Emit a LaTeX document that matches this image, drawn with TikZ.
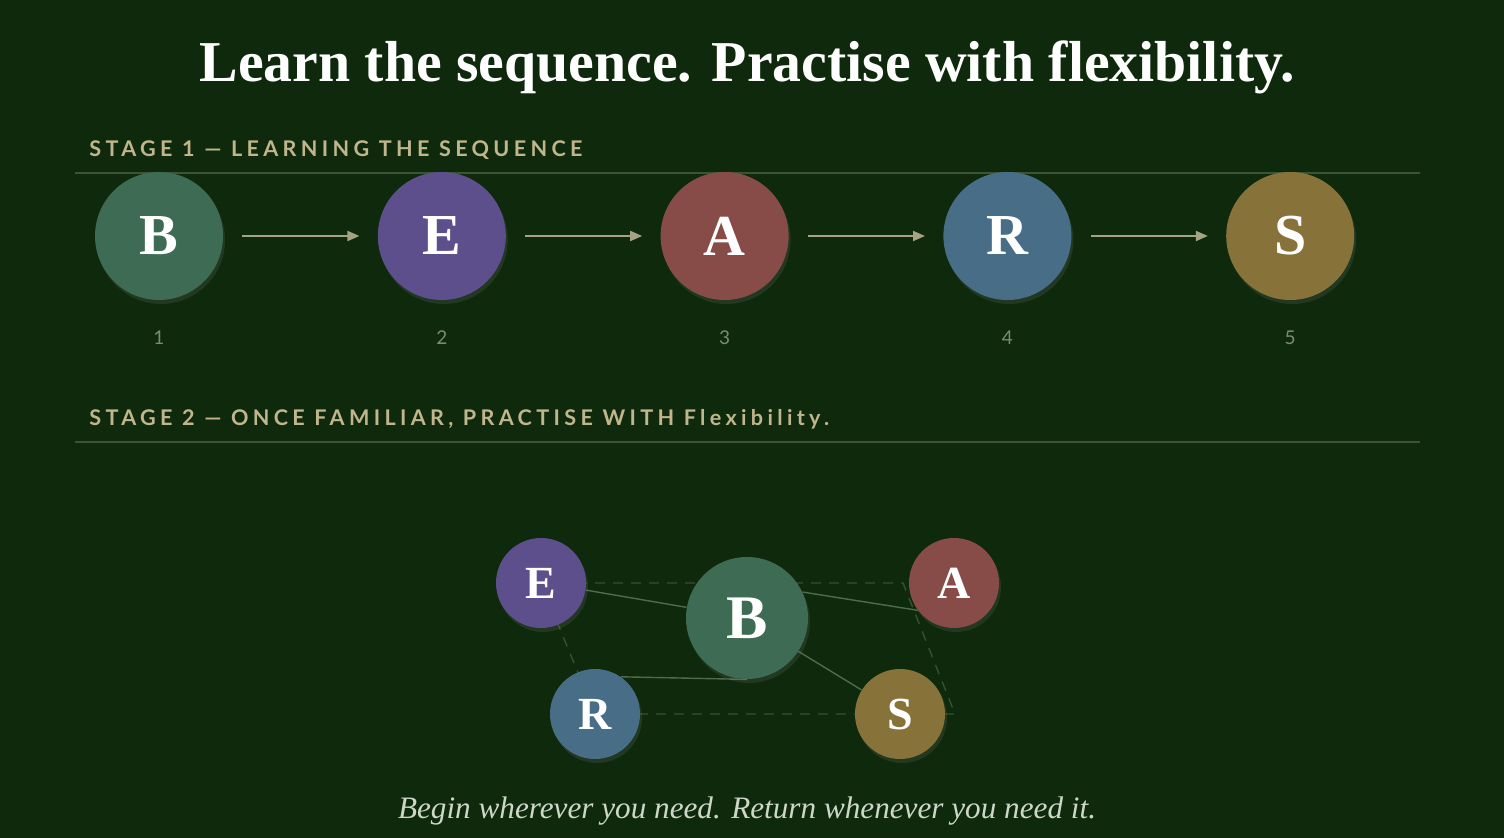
\documentclass[tikz,border=0pt]{standalone}
\usepackage{fontspec}
\setmainfont{Liberation Serif}
\newfontfamily\stagefont[LetterSpace=20]{Lato}
\newfontfamily\numfont{Lato}
\usepackage{xcolor}
\definecolor{board}{RGB}{14,41,11}
\definecolor{colB}{RGB}{62,107,84}
\definecolor{colE}{RGB}{92,79,140}
\definecolor{colA}{RGB}{135,75,72}
\definecolor{colR}{RGB}{72,110,135}
\definecolor{colS}{RGB}{135,115,58}
\definecolor{tan}{RGB}{192,181,140}
\definecolor{rulegr}{RGB}{58,84,52}
\definecolor{arrowtan}{RGB}{168,162,132}
\definecolor{numgrey}{RGB}{125,138,118}
\definecolor{linkgr}{RGB}{78,108,76}
\definecolor{dashgr}{RGB}{52,82,50}
\definecolor{paper}{RGB}{205,215,200}
\usetikzlibrary{positioning,arrows.meta,shadows,calc}
\pgfdeclarelayer{back}
\pgfdeclarelayer{links}
\pgfsetlayers{back,links,main}
\tikzset{
  letter/.style={circle,inner sep=0pt,text=white,
    drop shadow={opacity=0.18,shadow xshift=1pt,shadow yshift=-2pt}},
  big/.style={letter,minimum size=64pt,font=\bfseries\fontsize{29}{29}\selectfont},
  small/.style={letter,minimum size=45pt,font=\bfseries\fontsize{23}{23}\selectfont},
  mid/.style={letter,minimum size=61pt,font=\bfseries\fontsize{31}{31}\selectfont},
  stage/.style={anchor=base west,text=tan,inner sep=0pt,font=\stagefont\bfseries\fontsize{10.8}{10.8}\selectfont},
  num/.style={text=numgrey,inner sep=0pt,font=\numfont\fontsize{9.5}{9.5}\selectfont},
  seq/.style={draw=arrowtan,line width=1pt,-{Triangle[length=6pt,width=5pt]},shorten <=9.5pt,shorten >=9pt},
  link/.style={draw=linkgr,line width=0.7pt},
  frame/.style={draw=dashgr,line width=0.7pt,dash pattern=on 5pt off 4pt},
  rulel/.style={draw=rulegr,line width=0.6pt},
}
\begin{document}
\begin{tikzpicture}[x=0.5pt,y=-0.5pt]
  \begin{pgfonlayer}{back}
    \fill[board] (0,0) rectangle (1504,838);
  \end{pgfonlayer}
  \useasboundingbox (0,0) rectangle (1504,838);

  \node[anchor=base,text=white,inner sep=0pt,font=\bfseries\fontsize{28.9}{29}\selectfont] (title) at (747,82) {Learn the sequence. Practise with flexibility.};

  % stage 1
  \node[stage] (st1) at (89,157) {STAGE 1 — LEARNING THE SEQUENCE};
  \coordinate (r1a) at (75,173);
  \coordinate (r1b) at (1420,173);
  \path[rulel] (r1a) -- (r1b);

  \node[big,fill=colB] (b1) at (159,236) {B};
  \node[big,fill=colE,right=77pt of b1] (e2) {E};
  \node[big,fill=colA,right=77pt of e2] (a3) {A};
  \node[big,fill=colR,right=77pt of a3] (r4) {R};
  \node[big,fill=colS,right=77pt of r4] (s5) {S};

  \foreach \n/\k in {b1/1,e2/2,a3/3,r4/4,s5/5}
    \node[num] (n\k) at (\n |- 0,338) {\k};

  \path[seq] (b1) -- (e2);
  \path[seq] (e2) -- (a3);
  \path[seq] (a3) -- (r4);
  \path[seq] (r4) -- (s5);

  % stage 2
  \node[stage] (st2) at (89,426) {STAGE 2 — ONCE FAMILIAR, PRACTISE WITH Flexibility.};
  \coordinate (r2a) at (75,442);
  \coordinate (r2b) at (1420,442);
  \path[rulel] (r2a) -- (r2b);

  \node[small,fill=colE] (cE) at (541,583) {E};
  \node[mid,fill=colB] (cB) at (747,618) {B};
  \node[small,fill=colA] (cA) at (954,583) {A};
  \node[small,fill=colR] (cR) at (595,714) {R};
  \node[small,fill=colS] (cS) at (900,714) {S};
  \coordinate (fA) at (903,583);
  \coordinate (fS) at (955,714);

  \begin{pgfonlayer}{links}
    \path[frame] (cE.center) -- (fA) -- (fS) -- (cR.center) -- cycle;
    \path[link] (cE.-9) -- (cB.170);
    \path[link] (cB.25) -- (cA.217);
    \path[link] (cB.-33) -- (cS.148);
    \path[link] (cR.55) -- (cB.-90);
  \end{pgfonlayer}

  \node[anchor=base,text=paper,inner sep=0pt,font=\itshape\fontsize{15.6}{16}\selectfont] (motto) at (747,818) {Begin wherever you need. Return whenever you need it.};
\end{tikzpicture}
\end{document}
